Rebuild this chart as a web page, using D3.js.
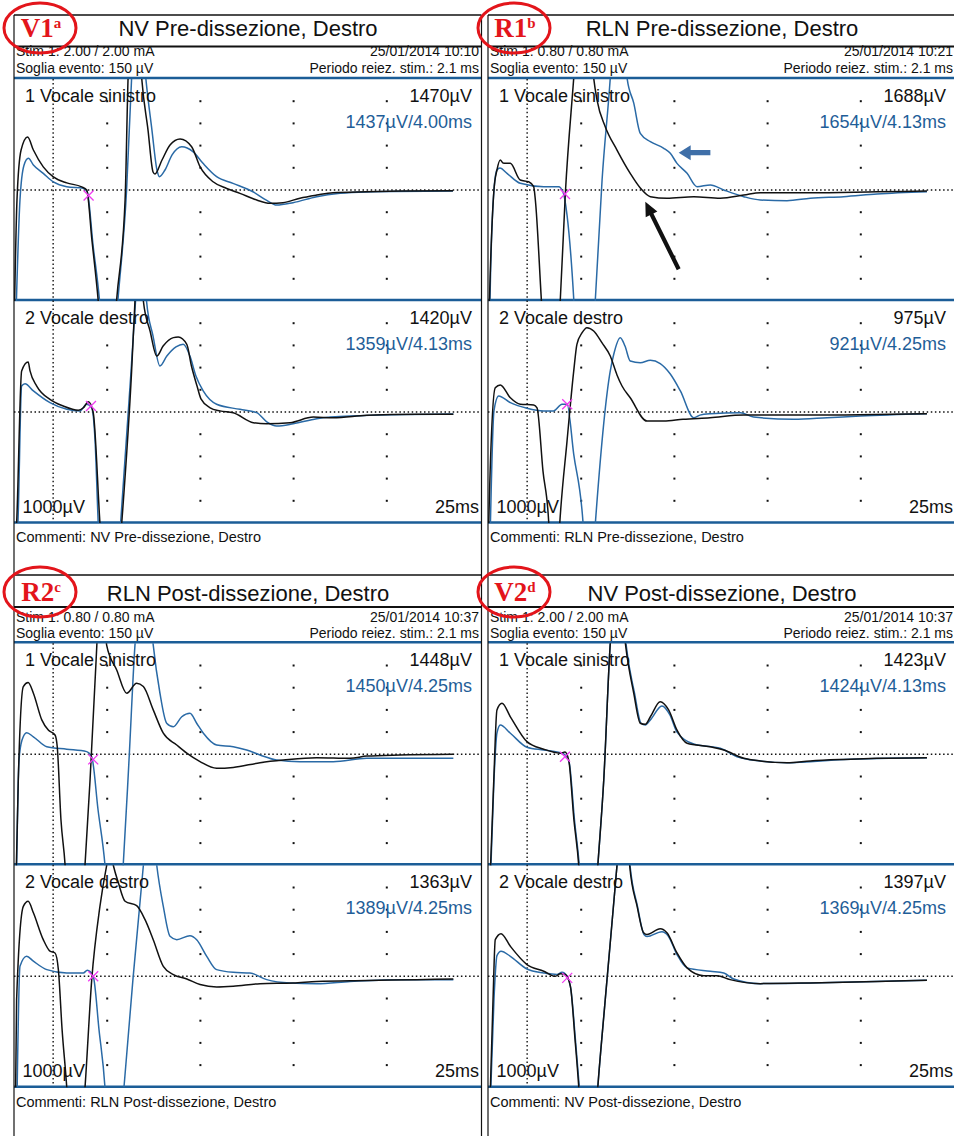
<!DOCTYPE html>
<html>
<head>
<meta charset="utf-8">
<script src="https://cdn.jsdelivr.net/npm/d3@7"></script>
<style>
  body { margin: 0; background: #fff; }
  svg { display: block; }
  text { font-family: "Liberation Sans", Arial, sans-serif; }
</style>
</head>
<body>
<div id="my_dataviz"></div>
<script>
// ---- panel texts (order: top-left, top-right, bottom-left, bottom-right)
var panelTags = ["V1", "R1", "R2", "V2"];
var panelSups = ["a", "b", "c", "d"];
var panelTitles = ["NV Pre-dissezione, Destro", "RLN Pre-dissezione, Destro",
                   "RLN Post-dissezione, Destro", "NV Post-dissezione, Destro"];
var stimCurrents = ["2.00 / 2.00", "0.80 / 0.80", "0.80 / 0.80", "2.00 / 2.00"];
var dateTimes = ["25/01/2014 10:10", "25/01/2014 10:21", "25/01/2014 10:37", "25/01/2014 10:37"];
var channelNames = ["1 Vocale sinistro", "2 Vocale destro"];

// amplitudes (uV) and latencies (ms) per panel, per channel
var blackAmp = [[1470, 1420], [1688, 975], [1448, 1363], [1423, 1397]];
var blueAmp = [[1437, 1359], [1654, 921], [1450, 1389], [1424, 1369]];
var latency = [[4.00, 4.13], [4.13, 4.25], [4.25, 4.25], [4.13, 4.25]];
var markerVolt = [[-25, 27], [-18, 35], [-23, 0], [-11, -7]];

// sweep settings
var sweepMs = 25, rangeUv = 1000, rejectMs = 2.1;
var gridTimes = [5, 10, 15, 20];
var gridVolts = [-400, -300, -200, -100, 100, 200, 300, 400];

// ---- traces: [time ms, amplitude uV]
var v1c1Black = [[0,-650],[0.16,-45],[0.38,180],[0.73,239],[1.04,180],[1.57,104],[2.11,59],[2.83,32],[3.63,14],[3.9,0],[4.18,-225],[4.51,-491],[4.77,-766],[5.26,-766],[5.51,-491],[5.96,-45],[6.12,505],[6.33,766],[6.65,766],[6.85,505],[7.19,270],[7.46,81],[7.56,72],[7.94,135],[8.37,203],[8.91,230],[9.53,195],[9.98,105],[10.68,37],[11.41,7],[12.12,-15],[13.02,-45],[13.73,-60],[14.43,-57],[15.34,-37],[16.24,-23],[17.11,-12],[18.92,-8],[20.71,-5],[23.55,-3]];
var v1c1Blue = [[0.1,-585],[0.32,-45],[0.54,113],[0.77,143],[1.04,113],[1.57,75],[2.11,37],[2.83,15],[3.72,8],[3.93,-8],[4.24,-248],[4.58,-491],[4.83,-766],[5.31,-766],[5.58,-491],[6.04,0],[6.31,505],[6.49,766],[6.81,766],[7.07,505],[7.4,270],[7.67,90],[7.8,60],[8.1,90],[8.48,158],[9.0,195],[9.6,173],[10.14,120],[10.87,60],[11.75,30],[12.82,-8],[13.56,-47],[14.09,-68],[14.97,-57],[16.24,-30],[17.49,-15],[18.92,-9],[23.55,-5]];
var v1c2Black = [[0.08,-581],[0.14,-500],[0.41,185],[0.76,225],[0.86,185],[1.22,117],[1.93,57],[2.64,27],[3.45,8],[3.72,19],[3.99,46],[4.25,-3],[4.61,-500],[4.83,-761],[5.53,-761],[5.78,-500],[6.31,185],[6.49,500],[6.65,725],[6.81,725],[6.94,500],[7.3,365],[7.66,252],[8.0,297],[8.55,335],[8.81,338],[9.27,305],[9.52,207],[9.82,117],[10.03,59],[10.52,19],[11.05,5],[11.76,-3],[12.84,-48],[13.56,-53],[14.81,-48],[16.06,-23],[17.11,-26],[18.92,-15],[21.6,-10],[23.57,-10]];
var v1c2Blue = [[0.16,-581],[0.21,-500],[0.41,117],[0.59,127],[1.04,95],[1.93,42],[2.83,12],[3.54,5],[3.9,35],[4.17,19],[4.35,-131],[4.52,-500],[4.77,-761],[5.47,-761],[5.72,-500],[6.28,185],[6.52,500],[6.71,725],[6.92,725],[7.11,500],[7.46,342],[7.83,207],[8.2,252],[8.69,293],[9.08,305],[9.44,252],[9.76,162],[10.15,95],[10.87,35],[12.12,12],[13.02,-3],[13.56,-44],[14.09,-63],[14.98,-53],[16.24,-30],[18.03,-18],[23.57,-9]];

var r1c1Black = [[0.05,-586],[0.08,-491],[0.32,0],[0.48,90],[0.66,135],[0.8,122],[1.2,120],[1.73,45],[2.18,37],[2.45,15],[2.54,-45],[2.86,-491],[3.06,-766],[3.65,-766],[3.88,-491],[4.15,-15],[4.6,505],[4.83,766],[5.42,766],[5.67,505],[5.85,405],[6.29,285],[6.92,180],[7.63,75],[8.17,9],[8.71,-30],[9.6,-37],[11.04,-30],[12.46,-37],[13.72,-23],[14.61,-12],[17.29,-12],[20.87,-8],[23.55,-5]];
var r1c1Blue = [[0.08,-700],[0.11,-491],[0.32,0],[0.48,90],[0.64,99],[1.02,75],[1.73,30],[2.99,15],[3.79,15],[4.02,-8],[4.24,-113],[4.6,-491],[4.77,-766],[5.53,-766],[5.76,-491],[6.12,45],[6.56,505],[6.76,766],[7.19,766],[7.46,505],[7.82,391],[8.17,255],[8.71,218],[9.43,188],[9.78,165],[10.14,120],[10.68,75],[11.21,15],[11.93,23],[12.65,0],[13.72,-30],[14.61,-45],[16.04,-48],[17.29,-37],[19.08,-30],[20.87,-18],[23.55,-8]];
var r1c2Black = [[0,-700],[0.04,-500],[0.39,109],[0.66,122],[1.2,64],[1.73,35],[2.45,32],[2.63,19],[2.95,-266],[3.26,-500],[3.38,-716],[3.7,-716],[3.85,-500],[4.24,-131],[4.6,185],[4.77,305],[5.04,356],[5.31,380],[5.67,365],[6.12,311],[6.56,252],[6.92,167],[7.19,117],[7.63,64],[8.53,-41],[9.43,-41],[10.46,-33],[11.91,-26],[13.72,-14],[17.29,-14],[23.55,-8]];
var r1c2Blue = [[0.08,-700],[0.13,-500],[0.32,5],[0.57,72],[1.2,42],[2.09,17],[2.99,5],[3.52,5],[3.97,35],[4.24,35],[4.6,-191],[5.1,-500],[5.26,-716],[5.58,-716],[5.76,-500],[6.56,185],[6.74,258],[7.1,335],[7.35,297],[7.63,230],[8.17,222],[8.71,233],[9.24,218],[9.78,171],[10.32,95],[11.04,-26],[11.37,-14],[11.93,-8],[13.54,-3],[14.25,-23],[16.4,-33],[18.19,-26],[19.97,-18],[23.55,-8]];

var r2c1Black = [[0.11,-566],[0.23,-116],[0.5,305],[0.76,323],[1.04,275],[1.49,155],[1.84,109],[2.2,87],[2.32,34],[2.52,-296],[2.74,-498],[2.9,-746],[3.65,-746],[3.81,-498],[4.08,-116],[4.44,485],[4.56,695],[4.83,695],[4.97,492],[5.51,380],[6.05,275],[6.58,320],[6.94,305],[7.47,200],[8.01,95],[8.73,42],[9.27,5],[9.98,-33],[10.87,-63],[11.76,-59],[13.2,-38],[14.45,-26],[16.24,-15],[18.03,-18],[18.92,-8],[20.71,-3],[23.57,0]];
var r2c1Blue = [[0.13,-566],[0.27,-26],[0.43,64],[0.68,97],[1.04,79],[1.76,34],[2.83,23],[3.9,12],[4.17,-11],[4.51,-251],[4.88,-498],[5.1,-746],[5.63,-746],[5.86,-498],[6.17,-26],[6.49,492],[6.71,695],[7.24,695],[7.47,492],[7.83,275],[8.19,140],[8.55,124],[9.0,169],[9.44,185],[9.8,140],[10.16,95],[10.87,42],[11.76,34],[12.48,19],[13.2,-3],[14.09,-26],[15.34,-33],[17.13,-33],[18.92,-18],[23.57,-18]];
var r2c2Black = [[0.08,-555],[0.14,-105],[0.5,315],[0.76,338],[1.04,286],[1.57,165],[1.93,113],[2.2,105],[2.38,30],[2.58,-240],[2.83,-500],[3.0,-736],[3.59,-736],[3.81,-500],[4.17,-15],[4.61,315],[4.97,499],[5.15,571],[5.33,499],[5.6,421],[5.96,338],[6.58,318],[7.03,255],[7.47,165],[8.01,45],[8.55,8],[9.27,-12],[9.98,-37],[10.87,-48],[11.76,-45],[13.2,-33],[14.98,-30],[16.24,-23],[18.92,-19],[21.6,-15],[23.57,-12]];
var r2c2Blue = [[0.16,-555],[0.32,45],[0.68,90],[1.04,68],[1.76,30],[2.83,15],[3.72,15],[3.93,27],[4.25,0],[4.56,-240],[4.88,-500],[5.04,-736],[5.69,-736],[5.9,-500],[6.38,-15],[6.94,499],[7.13,661],[7.46,661],[7.66,499],[8.01,315],[8.37,180],[8.73,165],[9.44,183],[9.8,165],[10.34,90],[10.87,30],[11.76,18],[12.66,15],[13.56,-15],[14.81,-30],[16.24,-33],[18.03,-23],[20.71,-15],[23.57,-15]];

var v2c1Black = [[0.11,-566],[0.31,-116],[0.48,200],[0.75,230],[1.2,169],[2.09,57],[2.99,23],[3.88,5],[4.13,10],[4.33,-26],[4.61,-296],[4.87,-503],[5.04,-746],[5.69,-746],[5.89,-503],[6.21,-116],[6.56,500],[6.76,695],[7.14,695],[7.37,500],[7.82,275],[8.17,140],[8.44,135],[8.71,169],[9.24,237],[9.69,200],[10.14,109],[10.68,50],[11.93,34],[12.65,19],[13.72,-18],[14.61,-30],[16.04,-38],[17.29,-30],[19.08,-23],[20.87,-18],[23.55,-15]];
var v2c1Blue = [[0.13,-566],[0.32,-116],[0.48,95],[0.66,132],[1.2,95],[2.09,32],[2.99,19],[3.88,7],[4.08,1],[4.35,-35],[4.64,-296],[4.9,-503],[5.1,-746],[5.69,-746],[5.89,-503],[6.21,-116],[6.56,500],[6.76,695],[7.19,695],[7.4,500],[7.86,275],[8.21,140],[8.44,132],[8.71,155],[9.33,218],[9.76,177],[10.14,100],[11.04,46],[12.46,27],[13.36,-11],[14.61,-30],[16.04,-38],[19.08,-23],[23.55,-15]];
var v2c2Black = [[0.11,-555],[0.27,-105],[0.39,165],[0.7,192],[1.2,135],[2.09,53],[2.99,23],[3.61,0],[3.88,12],[4.15,8],[4.42,-45],[4.67,-285],[4.87,-500],[5.04,-736],[5.69,-736],[5.89,-500],[6.29,-105],[6.92,499],[7.08,661],[7.46,661],[7.6,499],[8.0,315],[8.35,196],[8.53,188],[9.24,214],[9.6,196],[10.14,105],[10.68,38],[11.57,3],[12.28,3],[12.99,-15],[14.61,-33],[17.29,-30],[20.87,-23],[23.55,-18]];
var v2c2Blue = [[0.13,-555],[0.32,-105],[0.48,93],[0.7,113],[1.2,90],[2.09,33],[2.99,15],[3.7,8],[3.97,18],[4.24,0],[4.45,-60],[4.69,-285],[4.9,-500],[5.1,-736],[5.69,-736],[5.89,-500],[6.29,-105],[6.92,499],[7.08,661],[7.46,661],[7.62,499],[8.02,315],[8.37,188],[8.53,179],[9.33,201],[9.66,183],[10.14,98],[10.68,38],[11.93,23],[12.65,15],[13.18,-12],[14.61,-33],[17.29,-30],[23.55,-18]];

// arrows drawn on R1, channel 1: [tail, tip] in ms / uV
var blueArrow = [[11.93, 168], [10.23, 168]];
var blackArrow = [[10.23, -357], [8.44, -53]];

// [panel][channel] -> [black, blue]
var traces = [
  [[v1c1Black, v1c1Blue], [v1c2Black, v1c2Blue]],
  [[r1c1Black, r1c1Blue], [r1c2Black, r1c2Blue]],
  [[r2c1Black, r2c1Blue], [r2c2Black, r2c2Blue]],
  [[v2c1Black, v2c1Blue], [v2c2Black, v2c2Blue]]
];

// ---- layout
var width = 954, height = 1136;
var panelX = [14, 488, 14, 488];
var panelRow = [0, 0, 1, 1];
var rows = [
  {top: 15, bottom: 575, titleBase: 36, titleLine: 46.5, stimBase: 55.5, sogliaBase: 72.5, chTop: 79, commentBase: 542, tagY: 28},
  {top: 575, bottom: 1136, titleBase: 600.5, titleLine: 607, stimBase: 621.5, sogliaBase: 637.5, chTop: 643.3, commentBase: 1107, tagY: 592}
];
var panelW = 467, plotW = 466, chH = 222;

var ink = "#111", blueLine = "#1b5d97", blueTrace = "#2a6aa6", blueText = "#1f5e98", red = "#e3151b";

var svg = d3.select("#my_dataviz")
  .append("svg")
    .attr("width", width)
    .attr("height", height);

svg.append("rect").attr("width", width).attr("height", height).attr("fill", "#fff");

var defs = svg.append("defs");

panelTags.forEach(function(tag, p) {
  var x0 = panelX[p], row = rows[panelRow[p]];
  var g = svg.append("g");

  // clip the whole panel at its right edge
  defs.append("clipPath").attr("id", "panel" + p)
    .append("rect").attr("x", x0).attr("y", 0).attr("width", panelW + 0.5).attr("height", height);
  var pg = g.append("g").attr("clip-path", "url(#panel" + p + ")");

  // frame lines
  g.append("line").attr("x1", x0).attr("x2", x0).attr("y1", row.top).attr("y2", row.bottom)
    .attr("stroke", ink).attr("stroke-width", 1.2);
  if (x0 < 400) {
    g.append("line").attr("x1", x0 + panelW + 0.5).attr("x2", x0 + panelW + 0.5).attr("y1", row.top).attr("y2", row.bottom)
      .attr("stroke", ink).attr("stroke-width", 1.2);
  }
  pg.append("line").attr("x1", x0).attr("x2", x0 + panelW + 1).attr("y1", row.top).attr("y2", row.top)
    .attr("stroke", ink).attr("stroke-width", 1.5);
  pg.append("line").attr("x1", x0).attr("x2", x0 + panelW + 1).attr("y1", row.titleLine).attr("y2", row.titleLine)
    .attr("stroke", ink).attr("stroke-width", 1.8);

  // header texts
  pg.append("text").text(panelTitles[p])
    .attr("x", x0 + plotW / 2 + 1).attr("y", row.titleBase)
    .attr("text-anchor", "middle").style("font-size", "22px").attr("fill", ink);
  pg.append("text").text("Stim 1: " + stimCurrents[p] + " mA")
    .attr("x", x0 + 2).attr("y", row.stimBase).style("font-size", "14px").attr("fill", ink);
  pg.append("text").text("Soglia evento: 150 µV")
    .attr("x", x0 + 2).attr("y", row.sogliaBase).style("font-size", "14px").attr("fill", ink);
  pg.append("text").text(dateTimes[p])
    .attr("x", x0 + 465).attr("y", row.stimBase).attr("text-anchor", "end").style("font-size", "14px").attr("fill", ink);
  pg.append("text").text("Periodo reiez. stim.: " + rejectMs + " ms")
    .attr("x", x0 + 465).attr("y", row.sogliaBase).attr("text-anchor", "end").style("font-size", "14px").attr("fill", ink);
  pg.append("text").text("Commenti: " + panelTitles[p])
    .attr("x", x0 + 2).attr("y", row.commentBase).style("font-size", "14.5px").attr("fill", ink);

  var x = d3.scaleLinear().domain([0, sweepMs]).range([x0, x0 + plotW]);

  // blue separators
  [row.chTop - 1, row.chTop + chH - 1, row.chTop + 2 * chH - 0.5].forEach(function(yy) {
    pg.append("line").attr("x1", x0).attr("x2", x0 + panelW + 1).attr("y1", yy).attr("y2", yy)
      .attr("stroke", blueLine).attr("stroke-width", 2.6);
  });

  // stim rejection marker (vertical dotted)
  pg.append("line")
    .attr("x1", x(rejectMs)).attr("x2", x(rejectMs))
    .attr("y1", row.chTop).attr("y2", row.chTop + 2 * chH - 2)
    .attr("stroke", ink).attr("stroke-width", 1.4).attr("stroke-dasharray", "1.5,2.6");

  [0, 1].forEach(function(c) {
    var top = row.chTop + c * chH;
    var y = d3.scaleLinear().domain([-rangeUv / 2, rangeUv / 2]).range([top + chH, top]);

    // grid dots
    gridTimes.forEach(function(t) {
      gridVolts.forEach(function(v) {
        pg.append("rect").attr("x", x(t) - 1).attr("y", y(v) - 1).attr("width", 2).attr("height", 2).attr("fill", ink);
      });
    });
    // baseline
    pg.append("line").attr("x1", x0).attr("x2", x0 + panelW).attr("y1", y(0)).attr("y2", y(0))
      .attr("stroke", ink).attr("stroke-width", 1.4).attr("stroke-dasharray", "1.5,2.6");

    // traces, clipped to the channel box
    var cid = "ch" + p + "_" + c;
    defs.append("clipPath").attr("id", cid)
      .append("rect").attr("x", x0).attr("y", top).attr("width", panelW).attr("height", chH);
    var tg = pg.append("g").attr("clip-path", "url(#" + cid + ")");
    var line = d3.line()
      .x(function(d) { return x(d[0]); })
      .y(function(d) { return y(d[1]); })
      .curve(d3.curveMonotoneX);
    tg.append("path").datum(traces[p][c][1])
      .attr("d", line).attr("fill", "none").attr("stroke", blueTrace).attr("stroke-width", 1.5);
    tg.append("path").datum(traces[p][c][0])
      .attr("d", line).attr("fill", "none").attr("stroke", ink).attr("stroke-width", 1.5);

    // latency marker
    var mx = x(latency[p][c]), my = y(markerVolt[p][c]);
    pg.append("path")
      .attr("d", "M" + (mx - 5) + "," + (my - 5) + "L" + (mx + 5) + "," + (my + 5) +
                 "M" + (mx - 5) + "," + (my + 5) + "L" + (mx + 5) + "," + (my - 5))
      .attr("stroke", "#f03cf0").attr("stroke-width", 1.3).attr("fill", "none");

    // channel labels
    pg.append("text").text(channelNames[c])
      .attr("x", x0 + 11).attr("y", top + 22.5).style("font-size", "18px").attr("fill", ink);
    pg.append("text").text(blackAmp[p][c] + "µV")
      .attr("x", x0 + 458).attr("y", top + 22.5).attr("text-anchor", "end").style("font-size", "18px").attr("fill", ink);
    pg.append("text").text(blueAmp[p][c] + "µV/" + latency[p][c].toFixed(2) + "ms")
      .attr("x", x0 + 458).attr("y", top + 48.5).attr("text-anchor", "end").style("font-size", "18px").attr("fill", blueText);

    if (c === 1) {
      pg.append("text").text(rangeUv + "µV")
        .attr("x", x0 + 8.5).attr("y", top + 212).style("font-size", "18px").attr("fill", ink);
      pg.append("text").text(sweepMs + "ms")
        .attr("x", x0 + 465).attr("y", top + 212).attr("text-anchor", "end").style("font-size", "18px").attr("fill", ink);
    }

    // annotation arrows on R1 channel 1
    if (p === 1 && c === 0) {
      drawArrow(g, x(blueArrow[0][0]), y(blueArrow[0][1]), x(blueArrow[1][0]), y(blueArrow[1][1]), "#3f6fa8", 2.6, 12, 7.5);
      drawArrow(g, x(blackArrow[0][0]), y(blackArrow[0][1]), x(blackArrow[1][0]), y(blackArrow[1][1]), ink, 2.1, 14, 6.5);
    }
  });

  // red tag ellipse
  var cx = x0 + 26;
  g.append("ellipse").attr("cx", cx).attr("cy", row.tagY).attr("rx", 36).attr("ry", 25)
    .attr("fill", "none").attr("stroke", red).attr("stroke-width", 3);
  var tag = g.append("text")
    .attr("x", cx + 1).attr("y", row.tagY + 9)
    .attr("text-anchor", "middle")
    .style("font-family", "'Liberation Serif', 'Times New Roman', serif")
    .style("font-weight", "bold").style("font-size", "27px").attr("fill", red);
  tag.append("tspan").text(panelTags[p]);
  tag.append("tspan").text(panelSups[p]).attr("dy", -9).style("font-size", "15px");
});

// arrow as a filled polygon: shaft half-width hw, head length hl, head half-width hh
function drawArrow(g, x1, y1, x2, y2, color, hw, hl, hh) {
  var dx = x2 - x1, dy = y2 - y1, len = Math.sqrt(dx * dx + dy * dy);
  var ux = dx / len, uy = dy / len, nx = -uy, ny = ux;
  var bx = x2 - ux * hl, by = y2 - uy * hl;
  var pts = [
    [x1 + nx * hw, y1 + ny * hw], [bx + nx * hw, by + ny * hw], [bx + nx * hh, by + ny * hh],
    [x2, y2],
    [bx - nx * hh, by - ny * hh], [bx - nx * hw, by - ny * hw], [x1 - nx * hw, y1 - ny * hw]
  ];
  g.append("path").attr("d", "M" + pts.join("L") + "Z").attr("fill", color);
}
</script>
</body>
</html>
